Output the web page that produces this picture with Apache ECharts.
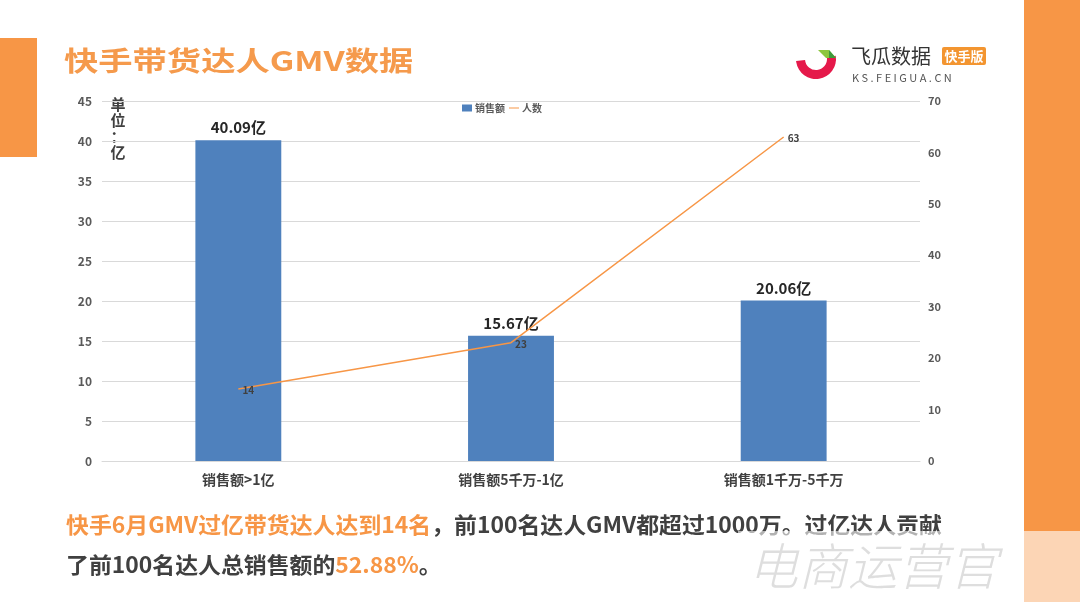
<!DOCTYPE html>
<html>
<head>
<meta charset="utf-8">
<script src="https://cdn.jsdelivr.net/npm/echarts@6/dist/echarts.min.js"></script>
<style>
html,body{margin:0;padding:0;background:#fff;}
#c{width:1080px;height:602px;}
</style>
</head>
<body>
<div id="c"></div>
<script>
const categories = ['销售额>1亿', '销售额5千万-1亿', '销售额1千万-5千万'];
const salesValues = [40.09, 15.67, 20.06];
const peopleValues = [14, 23, 63];
const leftAxis = {min: 0, max: 45, interval: 5};
const rightAxis = {min: 0, max: 70, interval: 10};
const seriesNames = ['销售额', '人数'];

const ORANGE = '#f79646';
const BLUE = '#4f81bd';
const FONT = '"Noto Sans CJK SC", "Noto Sans", sans-serif';

const chart = echarts.init(document.getElementById('c'), null, {renderer: 'canvas'});
chart.setOption({
  backgroundColor: '#ffffff',
  animation: false,
  textStyle: {fontFamily: FONT},
  grid: {left: 102, right: 160, top: 101, bottom: 141, containLabel: false},
  legend: {
    left: 457, top: 98,
    itemWidth: 10, itemHeight: 7, itemGap: 4,
    textStyle: {fontSize: 10, color: '#595959', fontWeight: 'bold', fontFamily: FONT, padding: [0, 0, 0, -2]},
    data: [
      {name: seriesNames[0], icon: 'rect'},
      {name: seriesNames[1], icon: 'path://M0,0 L20,0 L20,2 L0,2 Z'}
    ]
  },
  xAxis: {
    type: 'category',
    data: categories,
    axisLine: {lineStyle: {color: '#d9d9d9', width: 1}},
    axisTick: {show: false},
    axisLabel: {fontSize: 14, fontWeight: 'bold', color: '#404040', margin: 12, fontFamily: FONT}
  },
  yAxis: [
    {
      type: 'value', min: leftAxis.min, max: leftAxis.max, interval: leftAxis.interval,
      axisLine: {show: false}, axisTick: {show: false},
      axisLabel: {fontSize: 12, fontWeight: 'bold', color: '#595959', margin: 10, fontFamily: FONT},
      splitLine: {lineStyle: {color: '#d9d9d9', width: 1}}
    },
    {
      type: 'value', min: rightAxis.min, max: rightAxis.max, interval: rightAxis.interval,
      position: 'right',
      axisLine: {show: false}, axisTick: {show: false},
      axisLabel: {fontSize: 11, fontWeight: 'bold', color: '#595959', margin: 8, fontFamily: FONT},
      splitLine: {show: false}
    }
  ],
  series: [
    {
      name: seriesNames[0], type: 'bar', data: salesValues, yAxisIndex: 0,
      barWidth: '31.5%',
      itemStyle: {color: BLUE},
      label: {
        show: true, position: 'top', distance: 5,
        formatter: p => p.value.toFixed(2) + '亿',
        fontSize: 15, fontWeight: 'bold', color: '#262626', fontFamily: FONT
      }
    },
    {
      name: seriesNames[1], type: 'line', data: peopleValues, yAxisIndex: 1,
      symbol: 'circle', symbolSize: 0.1,
      lineStyle: {color: ORANGE, width: 1.5},
      itemStyle: {color: ORANGE},
      label: {
        show: true, position: 'right', distance: 4, offset: [0, 1],
        fontSize: 10, fontWeight: 'bold', color: '#404040', fontFamily: FONT
      },
      z: 5
    }
  ],
  graphic: [
    // side blocks
    {type: 'rect', shape: {x: 0, y: 38, width: 37, height: 119}, style: {fill: ORANGE}, silent: true},
    {type: 'rect', shape: {x: 1024, y: 0, width: 56, height: 602}, style: {fill: ORANGE}, silent: true},
    // title
    {type: 'text', x: 64, y: 61, scaleX: 1.27, style: {
      text: '快手带货达人GMV数据', fill: '#f59a4c',
      font: 'bold 27px ' + FONT, textVerticalAlign: 'middle'
    }},
    // unit label
    {type: 'text', x: 118, y: 96, style: {
      text: '单\n位\n：\n亿', fill: '#404040', font: 'bold 15px ' + FONT,
      align: 'center', lineHeight: 16
    }},
    // logo
    {type: 'sector', shape: {cx: 816, cy: 59, r: 20, r0: 11, startAngle: -0.05 * Math.PI, endAngle: 0.97 * Math.PI, clockwise: true},
      style: {fill: '#e5194a'}},
    {type: 'polygon', shape: {points: [[818, 50], [829, 50], [836, 58], [826, 58]]}, style: {fill: '#8cc63f'}},
    {type: 'polygon', shape: {points: [[829, 50], [836, 58], [829, 58]]}, style: {fill: '#3c9a3c'}},
    {type: 'text', x: 851, y: 56, style: {text: '飞瓜数据', fill: '#333333', font: '20px ' + FONT, textVerticalAlign: 'middle'}},
    {type: 'rect', shape: {x: 942, y: 47, width: 44, height: 18, r: 2}, style: {fill: '#f39530'}},
    {type: 'text', x: 964, y: 56, style: {text: '快手版', fill: '#ffffff', font: 'bold 13px ' + FONT, align: 'center', textVerticalAlign: 'middle'}},
    {type: 'text', x: 852, y: 78, style: {text: 'K S . F E I G U A . C N', fill: '#555555', font: '11px ' + FONT, textVerticalAlign: 'middle'}},
    // bottom text
    {type: 'text', x: 66, y: 525, scaleX: 1.04, style: {
      text: '{o|快手6月GMV过亿带货达人达到14名}{d|，前100名达人GMV都超过1000万。过亿达人贡献}',
      textVerticalAlign: 'middle',
      rich: {
        o: {fill: ORANGE, font: 'bold 22px ' + FONT},
        d: {fill: '#404040', font: 'bold 22px ' + FONT}
      }
    }},
    {type: 'text', x: 66, y: 565, scaleX: 1.04, style: {
      text: '{d|了前100名达人总销售额的}{o|52.88%}{d|。}',
      textVerticalAlign: 'middle',
      rich: {
        o: {fill: ORANGE, font: 'bold 22px ' + FONT},
        d: {fill: '#404040', font: 'bold 22px ' + FONT}
      }
    }},
    // watermark overlay
    {type: 'rect', shape: {x: 738, y: 531, width: 342, height: 71}, style: {fill: 'rgba(255,255,255,0.6)'}, z: 100},
    {type: 'text', x: 748, y: 566, z: 101, style: {
      text: '电商运营官', fill: 'rgba(205,205,205,0.65)', font: 'italic 300 50px ' + FONT,
      textVerticalAlign: 'middle'
    }}
  ]
});
</script>
</body>
</html>
